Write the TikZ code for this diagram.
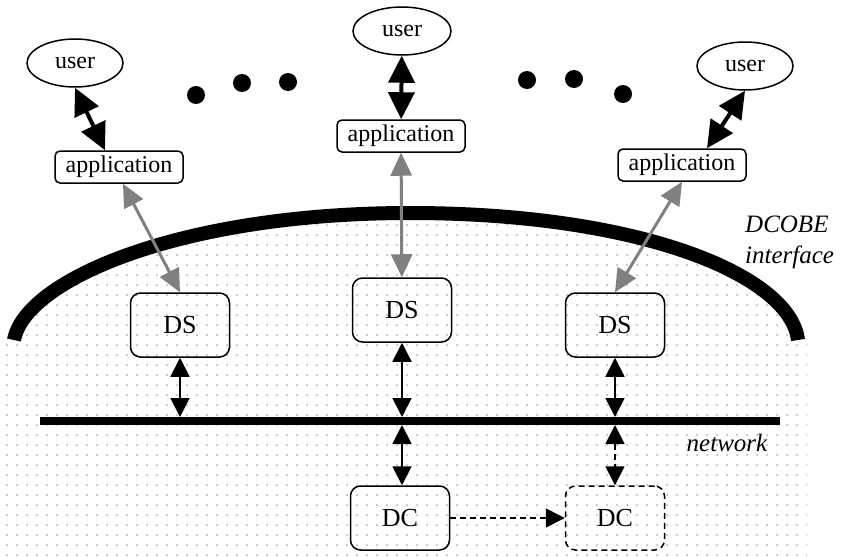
\documentclass[tikz,border=0pt]{standalone}
\usepackage{fontspec}
\setmainfont{LiberationSerif}[Extension=.ttf, UprightFont=*-Regular, ItalicFont=*-Italic, BoldFont=*-Bold]
\usetikzlibrary{arrows.meta}
\usetikzlibrary{shapes.geometric}
\usetikzlibrary{calc}

\definecolor{dotgray}{gray}{0.68}
\definecolor{linkgray}{gray}{0.5}

\begin{document}
\begin{tikzpicture}[x=1pt,y=-1pt]
\tikzstyle{user}=[draw,ellipse,line width=1.5pt,minimum width=96pt,minimum height=48pt,inner sep=0pt,font=\fontsize{24}{28}\selectfont]
\tikzstyle{app}=[draw,rounded corners=5pt,line width=1.5pt,minimum width=128pt,minimum height=32pt,inner sep=0pt,font=\fontsize{24}{28}\selectfont]
\tikzstyle{server}=[draw,rounded corners=10pt,line width=1.5pt,minimum width=99pt,minimum height=64pt,inner sep=0pt,font=\fontsize{26}{30}\selectfont]
\tikzstyle{label}=[font=\fontsize{25}{31}\selectfont\itshape,inner sep=0pt]
\tikzstyle{bigarrow}=[line width=4pt,{Triangle[length=27pt,width=26pt]}-{Triangle[length=27pt,width=26pt]}]
\tikzstyle{grayarrow}=[line width=3pt,linkgray,{Triangle[length=23pt,width=21pt]}-{Triangle[length=23pt,width=21pt]}]
\tikzstyle{thinarrow}=[line width=1.8pt,{Triangle[length=19pt,width=19pt]}-{Triangle[length=19pt,width=19pt]}]
\tikzstyle{dashline}=[dash pattern=on 6pt off 4pt]
\useasboundingbox (0,0) rectangle (844,557);

% dotted area under the interface
\begin{scope}
\clip (5,557) -- (5,340) -- (14,340) .. controls (25,280) and (180,213) .. (410,213)
  .. controls (640,213) and (790,275) .. (798,340) -- (807,340) -- (807,557) -- cycle;
\foreach \x in {7,17,...,807}
  \foreach \y in {205,215,...,555}
    \fill[dotgray] (\x,\y) circle (1pt);
\end{scope}
\draw [line width=14pt] (14,340) .. controls (25,280) and (180,213) .. (410,213)
  .. controls (640,213) and (790,275) .. (798,340);

% network
\coordinate (netW) at (40,421);
\coordinate (netE) at (780,421);
\draw [line width=8pt] (netW) -- (netE);

\node [user] (userL) at (75,63) {user};
\node [user, minimum width=98pt] (userC) at (402,31) {user};
\node [user] (userR) at (745,66) {user};

\node [app] (appL) at (119,167) {application};
\node [app] (appC) at (401,136) {application};
\node [app] (appR) at (682,165) {application};

\node [server] (dsL) at (180,325) {DS};
\node [server] (dsC) at (402,310) {DS};
\node [server] (dsR) at (615,325) {DS};

\node [server] (dcC) at (400,518) {DC};
\node [server, dashline] (dcR) at (615,518) {DC};

\node [label, anchor=west, align=left] (iface) at (745,242) {DCOBE\\interface};
\node [label] (net) at (727,443) {network};

% more users
\foreach \p in {(196,95),(242,83),(288,82),(527,80),(574,79),(623,94)}
  \fill \p circle (9pt);

\draw [bigarrow] (userL.south) -- ([xshift=-14pt]appL.north);
\draw [bigarrow] (userC) -- (appC);
\draw [bigarrow] (userR.south) -- ([xshift=25pt]appR.north);

\draw [grayarrow] ([xshift=4pt]appL.south) -- (dsL.north);
\draw [grayarrow] (appC) -- (dsC);
\draw [grayarrow] (appR.south) -- (dsR.north);

\draw [thinarrow, shorten >=4pt] (dsL.south) -- (dsL.south |- netW);
\draw [thinarrow, shorten >=4pt] (dsC.south) -- (dsC.south |- netW);
\draw [thinarrow, shorten >=4pt] (dsR.south) -- (dsR.south |- netW);
\draw [thinarrow, shorten <=4pt] (dsC.south |- netW) -- (dsC.south |- dcC.north);
\draw [thinarrow, dashline, shorten <=4pt] (dsR.south |- netW) -- (dcR.north);
\draw [thinarrow, dashline, {-Triangle[length=19pt,width=19pt]}] (dcC.east) -- (dcR.west);
\end{tikzpicture}
\end{document}
